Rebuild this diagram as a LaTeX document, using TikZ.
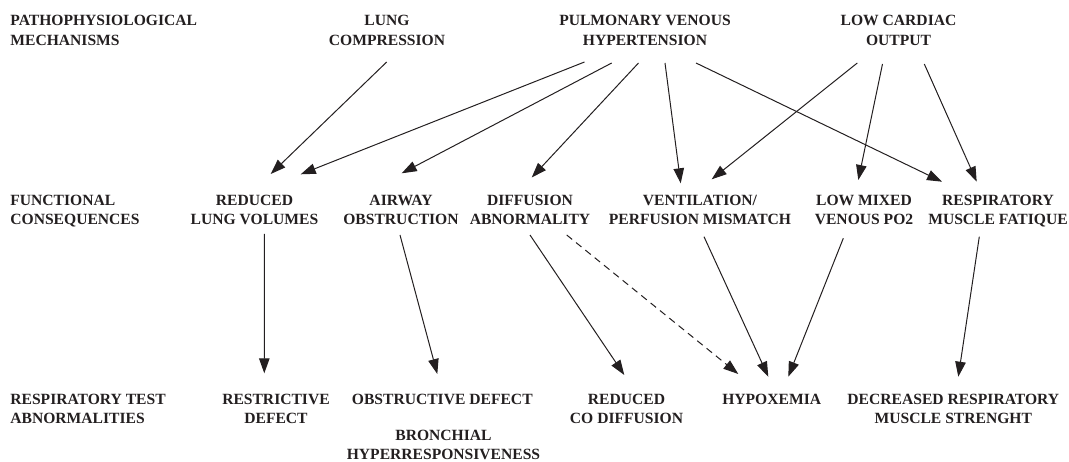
\documentclass[tikz,border=0pt]{standalone}
\usepackage{fontspec}
\setmainfont{Liberation Serif}
\usetikzlibrary{arrows.meta}
\definecolor{ink}{RGB}{35,31,32}
\begin{document}
\begin{tikzpicture}[x=1bp,y=-1bp,
  lbl/.style={anchor=north,align=center,inner sep=0pt,outer sep=0pt,text=ink,
    font=\fontsize{15.6bp}{19.5bp}\selectfont\bfseries},
  side/.style={lbl,anchor=north west,align=left},
  arr/.style={draw=ink,line width=1bp,-{Triangle[length=15bp,width=10.5bp]}},
  darr/.style={arr,dash pattern=on 7bp off 5bp}]
\useasboundingbox (0,0) rectangle (1069,462);
% row headings
\node[side] (h1) at (10.4,15.5) {PATHOPHYSIOLOGICAL\\MECHANISMS};
\node[side] (h2) at (10.4,195) {FUNCTIONAL\\CONSEQUENCES};
\node[side] (h3) at (10.4,394) {RESPIRATORY TEST\\ABNORMALITIES};
% row 1
\node[lbl] (lc) at (387,15.5) {LUNG\\COMPRESSION};
\node[lbl] (pvh) at (645,15.5) {PULMONARY VENOUS\\HYPERTENSION};
\node[lbl] (lco) at (898.5,15.5) {LOW CARDIAC\\OUTPUT};
% row 2
\node[lbl] (rlv) at (254.5,195) {REDUCED\\LUNG VOLUMES};
\node[lbl] (ao) at (401,195) {AIRWAY\\OBSTRUCTION};
\node[lbl] (da) at (530,195) {DIFFUSION\\ABNORMALITY};
\node[lbl] (vq) at (700,195) {VENTILATION/\\PERFUSION MISMATCH};
\node[lbl] (lmv) at (864,195) {LOW MIXED\\VENOUS PO2};
\node[lbl] (rmf) at (998,195) {RESPIRATORY\\MUSCLE FATIQUE};
% row 3
\node[lbl] (rd) at (276,394) {RESTRICTIVE\\DEFECT};
\node[lbl] (od) at (442.3,394) {OBSTRUCTIVE DEFECT};
\node[lbl] (bh) at (443.5,430) {BRONCHIAL\\HYPERRESPONSIVENESS};
\node[lbl] (rcd) at (626.5,394) {REDUCED\\CO DIFFUSION};
\node[lbl] (hyp) at (771.7,394) {HYPOXEMIA};
\node[lbl] (drm) at (953.3,394) {DECREASED RESPIRATORY\\MUSCLE STRENGHT};
% row 1 -> row 2
\draw[arr] ([shift={(-0.3,46.5)}]lc.north) -- ([shift={(16.2,-21)}]rlv.north);
\draw[arr] ([shift={(-60.5,46.5)}]pvh.north) -- ([shift={(46.2,-20.7)}]rlv.north);
\draw[arr] ([shift={(-33.3,47.5)}]pvh.north) -- ([shift={(0.7,-21.7)}]ao.north);
\draw[arr] ([shift={(-6.5,47.5)}]pvh.north) -- ([shift={(1.7,-17.5)}]da.north);
\draw[arr] ([shift={(20,47.5)}]pvh.north) -- ([shift={(-19.3,-11.7)}]vq.north);
\draw[arr] ([shift={(51,47.5)}]pvh.north) -- ([shift={(-56,-13.3)}]rmf.north);
\draw[arr] ([shift={(-41.2,47.5)}]lco.north) -- ([shift={(11.7,-15.7)}]vq.north);
\draw[arr] ([shift={(-16,48.5)}]lco.north) -- ([shift={(-5.7,-15)}]lmv.north);
\draw[arr] ([shift={(25.8,48.5)}]lco.north) -- ([shift={(-21.3,-13.3)}]rmf.north);
% row 2 -> row 3
\draw[arr] ([shift={(9.8,39)}]rlv.north) -- ([shift={(-11.7,-20.7)}]rd.north);
\draw[arr] ([shift={(-1,40)}]ao.north) -- ([shift={(-5,-20)}]od.north);
\draw[arr] ([shift={(0,40)}]da.north) -- ([shift={(-2.2,-19)}]rcd.north);
\draw[darr] ([shift={(36.7,40)}]da.north) -- ([shift={(-33.4,-20)}]hyp.north);
\draw[arr] ([shift={(4,41.7)}]vq.north) -- ([shift={(-3.4,-17.3)}]hyp.north);
\draw[arr] ([shift={(-20.7,43.3)}]lmv.north) -- ([shift={(16.6,-17.3)}]hyp.north);
\draw[arr] ([shift={(-18.7,41.7)}]rmf.north) -- ([shift={(5,-17.3)}]drm.north);
\end{tikzpicture}
\end{document}
